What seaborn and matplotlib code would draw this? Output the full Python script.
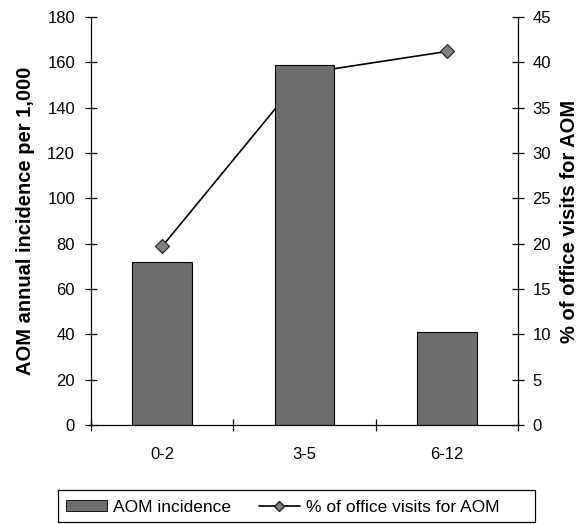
import matplotlib
matplotlib.use("Agg")
import matplotlib.pyplot as plt
import seaborn as sns
import pandas as pd
from matplotlib.patches import Patch, Rectangle
from matplotlib.lines import Line2D

categories = ["0-2", "3-5", "6-12"]
incidence = [72, 159, 41]
office_pct = [19.7, 38.8, 41.2]

sns.set_style("white")
plt.rcParams['font.family'] = ['Liberation Sans', 'DejaVu Sans']
for k in ("text.color", "axes.labelcolor", "xtick.color", "ytick.color"):
    plt.rcParams[k] = "black"

df = pd.DataFrame({"age": categories, "incidence": incidence, "pct": office_pct})

W, H = 582, 524
fig = plt.figure(figsize=(W / 100, H / 100), dpi=100)
ax = fig.add_axes([91 / W, 1 - 425 / H, (518 - 91) / W, (425 - 17) / H])
ax2 = ax.twinx()

bar_color = "#6e6e6e"
sns.barplot(data=df, x="age", y="incidence", ax=ax, color=bar_color,
            saturation=1, width=0.42, edgecolor="black", linewidth=0.8)
sns.lineplot(data=df, x="age", y="pct", ax=ax2, color="black", linewidth=1.2,
             marker="D", markersize=7, markerfacecolor="#808080",
             markeredgecolor="#222222", markeredgewidth=0.8, sort=False)

ax.set_zorder(ax2.get_zorder() + 1)
ax.patch.set_visible(False)

ax.set_xlim(-0.5, 2.5)
ax.set_ylim(0, 180)
ax2.set_ylim(0, 45)
ax.set_yticks(range(0, 181, 20))
ax2.set_yticks(range(0, 46, 5))

ax.set_xlabel("")
ax2.set_xlabel("")
ax.set_ylabel("AOM annual incidence per 1,000", fontsize=14.5, fontweight="bold", labelpad=9)
ax2.set_ylabel("% of office visits for AOM", fontsize=14.5, fontweight="bold", labelpad=6)

for a in (ax, ax2):
    a.spines['top'].set_visible(False)
    for s in a.spines.values():
        s.set_color("black")
        s.set_linewidth(0.9)
ax.spines['right'].set_visible(False)
ax2.spines['left'].set_visible(False)
ax2.spines['bottom'].set_visible(False)

ax.tick_params(axis='y', direction='inout', length=9, width=0.9, labelsize=12, pad=7, left=True)
ax2.tick_params(axis='y', direction='inout', length=9, width=0.9, labelsize=12, pad=6, right=True)
ax.set_xticks([-0.5, 0.5, 1.5, 2.5], minor=True)
ax.tick_params(axis='x', which='minor', direction='inout', length=8, width=0.9, bottom=True)
ax.tick_params(axis='x', which='major', length=0, labelsize=12, pad=16)

handles = [Patch(facecolor=bar_color, edgecolor="black", linewidth=0.6),
           Line2D([0], [0], color="black", linewidth=1.2, marker="D", markersize=5,
                  markerfacecolor="#808080", markeredgecolor="#222222")]
labels = ["AOM incidence", "% of office visits for AOM"]
leg = fig.legend(handles, labels, loc="center left", bbox_to_anchor=(66 / W, 1 - 507 / H),
                 ncol=2, frameon=False, fontsize=12.5, borderpad=0, borderaxespad=0,
                 handlelength=2.36, handleheight=0.6, columnspacing=1.6, handletextpad=0.35)
fig.add_artist(Rectangle((58 / W, 1 - 522 / H), 477 / W, 32 / H, transform=fig.transFigure,
                         facecolor="none", edgecolor="black", linewidth=0.9))

fig.savefig("out.png", dpi=100)
